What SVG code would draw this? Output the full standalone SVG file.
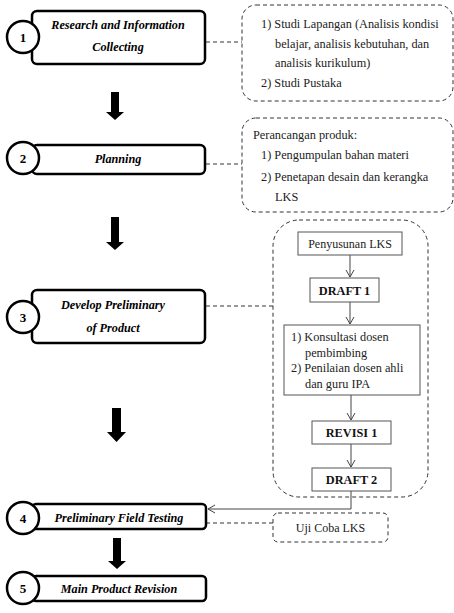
<svg xmlns="http://www.w3.org/2000/svg" width="454" height="613" viewBox="0 0 454 613">
<defs>
<marker id="v" markerWidth="10" markerHeight="10" refX="8" refY="5" orient="auto" markerUnits="userSpaceOnUse">
<path d="M1,1 L8,5 L1,9" fill="none" stroke="#444" stroke-width="1"/>
</marker>
</defs>
<style>
.nb{fill:#fff;stroke:#000;stroke-width:2.5}
.nc{fill:#fff;stroke:#000;stroke-width:2.5}
.nt{font-family:"Liberation Serif","Times New Roman",serif;font-size:12.2px;font-weight:bold;font-style:italic;text-anchor:middle;fill:#000}
.num{font-family:"Liberation Serif","Times New Roman",serif;font-size:13px;font-weight:bold;text-anchor:middle;fill:#000}
.db{fill:none;stroke:#333;stroke-width:1;stroke-dasharray:4 3}
.dl{fill:none;stroke:#333;stroke-width:1;stroke-dasharray:4 3}
.tx{font-family:"Liberation Serif","Times New Roman",serif;font-size:12.3px;fill:#222}
.ib{fill:#fff;stroke:#555;stroke-width:1}
.it{font-family:"Liberation Serif","Times New Roman",serif;font-size:12px;fill:#222;text-anchor:middle}
.ibt{font-family:"Liberation Serif","Times New Roman",serif;font-size:12.3px;font-weight:bold;fill:#111;text-anchor:middle}
.ar{fill:none;stroke:#444;stroke-width:1}
.ba{fill:#000}
</style>

<g id="connectors">
<line class="dl" x1="206" y1="42" x2="242" y2="42"/>
<line class="dl" x1="206" y1="164" x2="242" y2="164"/>
<line class="dl" x1="206" y1="306" x2="273" y2="306"/>
<line class="dl" x1="206" y1="523" x2="273" y2="523"/>
<path class="ba" d="M111,92 H119 V112 H124 L115,120 L106,112 H111 Z"/>
<path class="ba" d="M111,217 H119 V242 H124 L115,250 L106,242 H111 Z"/>
<path class="ba" d="M112,408 H121 V432 H126 L116.5,442 L107,432 H112 Z"/>
<path class="ba" d="M113,538 H121 V561 H126 L117,569 L108,561 H113 Z"/>
<line class="ar" x1="350" y1="255" x2="350" y2="277" marker-end="url(#v)"/>
<line class="ar" x1="350" y1="302" x2="350" y2="324" marker-end="url(#v)"/>
<line class="ar" x1="351" y1="395" x2="351" y2="420" marker-end="url(#v)"/>
<line class="ar" x1="351" y1="444" x2="351" y2="467" marker-end="url(#v)"/>
<path class="ar" d="M351,491 V509 H208" marker-end="url(#v)"/>
</g>

<g id="node1">
<rect class="nb" x="32" y="11" width="173" height="53" rx="5"/>
<circle class="nc" cx="23" cy="37" r="16"/>
<text class="num" x="23" y="42">1</text>
<text class="nt" x="118" y="29">Research and Information</text>
<text class="nt" x="118" y="51">Collecting</text>
</g>
<g id="note1">
<rect class="db" x="242" y="5" width="211" height="96" rx="14"/>
<text class="tx" x="261" y="28">1) Studi Lapangan (Analisis kondisi</text>
<text class="tx" x="275" y="48">belajar, analisis kebutuhan, dan</text>
<text class="tx" x="275" y="67">analisis kurikulum)</text>
<text class="tx" x="261" y="87">2) Studi Pustaka</text>
</g>

<g id="node2">
<rect class="nb" x="32" y="145" width="173" height="29" rx="5"/>
<circle class="nc" cx="23" cy="158" r="16"/>
<text class="num" x="23" y="163">2</text>
<text class="nt" x="118" y="163">Planning</text>
</g>
<g id="note2">
<rect class="db" x="242" y="118" width="211" height="94" rx="14"/>
<text class="tx" x="253" y="139">Perancangan produk:</text>
<text class="tx" x="261" y="159">1) Pengumpulan bahan materi</text>
<text class="tx" x="261" y="181">2) Penetapan desain dan kerangka</text>
<text class="tx" x="275" y="201">LKS</text>
</g>

<g id="node3">
<rect class="nb" x="32" y="290" width="173" height="53" rx="5"/>
<circle class="nc" cx="23" cy="317" r="16"/>
<text class="num" x="23" y="322">3</text>
<text class="nt" x="113" y="309">Develop Preliminary</text>
<text class="nt" x="113" y="332">of Product</text>
</g>
<g id="group3">
<rect class="db" x="273" y="220" width="155" height="277" rx="26"/>
</g>
<g id="penyusunan">
<rect class="ib" x="298" y="232" width="104" height="23"/>
<text class="it" x="350" y="248">Penyusunan LKS</text>
</g>
<g id="draft1">
<rect class="ib" x="310" y="278" width="69" height="24"/>
<text class="ibt" x="344.5" y="294.5">DRAFT 1</text>
</g>
<g id="konsultasi">
<rect class="ib" x="284" y="325" width="136" height="70"/>
<text class="tx" x="291" y="341">1) Konsultasi dosen</text>
<text class="tx" x="305" y="357">pembimbing</text>
<text class="tx" x="291" y="372">2) Penilaian dosen ahli</text>
<text class="tx" x="305" y="388">dan guru IPA</text>
</g>
<g id="revisi1">
<rect class="ib" x="312" y="421" width="79" height="23"/>
<text class="ibt" x="351.5" y="437">REVISI 1</text>
</g>
<g id="draft2">
<rect class="ib" x="312" y="468" width="79" height="23"/>
<text class="ibt" x="351.5" y="484">DRAFT 2</text>
</g>

<g id="node4">
<rect class="nb" x="32" y="504" width="174" height="25" rx="4"/>
<circle class="nc" cx="23" cy="518" r="16"/>
<text class="num" x="23" y="523">4</text>
<text class="nt" x="119" y="522">Preliminary Field Testing</text>
</g>
<g id="note4">
<rect class="db" x="273" y="513" width="115" height="29" rx="5"/>
<text class="it" x="330.5" y="531.5">Uji Coba LKS</text>
</g>

<g id="node5">
<rect class="nb" x="32" y="576" width="174" height="25" rx="4"/>
<circle class="nc" cx="23" cy="588" r="16"/>
<text class="num" x="23" y="593">5</text>
<text class="nt" x="119" y="593">Main Product Revision</text>
</g>
</svg>
